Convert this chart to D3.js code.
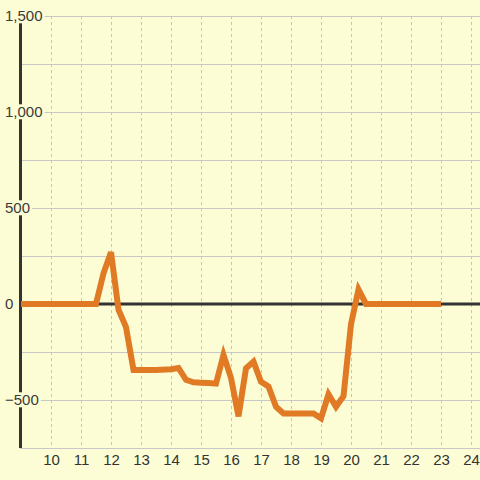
<!DOCTYPE html>
<html>
<head>
<meta charset="utf-8">
<script src="https://cdn.jsdelivr.net/npm/d3@7"></script>
<style>
  body { margin: 0; background: #fdfdd5; }
  svg { display: block; font-family: "Liberation Sans", Arial, sans-serif; }
</style>
</head>
<body>
<div id="wrap"></div>
<script>
//  values
const xValues = [9, 9.5, 10, 10.5, 11, 11.5, 11.75, 12, 12.25, 12.5, 12.75, 13, 13.5, 14,
  14.25, 14.5, 14.75, 15, 15.25, 15.5, 15.75, 16, 16.25, 16.5, 16.75, 17, 17.25,
  17.5, 17.75, 18, 18.5, 18.75, 19, 19.25, 19.5, 19.75, 20, 20.25, 20.5, 21, 22, 23];
const yValues = [0, 0, 0, 0, 0, 0, 160, 270, -30, -120, -344, -344, -344, -340,
  -333, -395, -408, -410, -412, -415, -265, -385, -585, -335, -300, -405, -430,
  -535, -570, -570, -570, -570, -595, -470, -535, -480, -105, 75, 0, 0, 0, 0];
const xTicks = [10, 11, 12, 13, 14, 15, 16, 17, 18, 19, 20, 21, 22, 23, 24];
const yTicks = [-500, 0, 500, 1000, 1500];
const yGridLines = [-750, -500, -250, 0, 250, 500, 750, 1000, 1250, 1500];

const W = 480, H = 480;
const bg = "#fdfdd5";

const x = d3.scaleLinear().domain([9, 24.3]).range([21, 480]);
const y = d3.scaleLinear().domain([-750, 1500]).range([448, 16]);

const svg = d3.select("#wrap").append("svg").attr("width", W).attr("height", H);
svg.append("rect").attr("width", W).attr("height", H).attr("fill", bg);

//  vertical dotted grid
svg.append("g").selectAll("line").data(xTicks).enter().append("line")
  .attr("x1", d => x(d) + 0.5).attr("x2", d => x(d) + 0.5)
  .attr("y1", y(1500)).attr("y2", y(-750))
  .attr("stroke", "#c4c4c4").attr("stroke-dasharray", "3,3");

//  horizontal grid
svg.append("g").selectAll("line").data(yGridLines).enter().append("line")
  .attr("x1", 20).attr("x2", W)
  .attr("y1", d => Math.round(y(d)) + 0.5).attr("y2", d => Math.round(y(d)) + 0.5)
  .attr("stroke", "#c8c8c8");

//  zero line
svg.append("line").attr("x1", 20).attr("x2", W)
  .attr("y1", y(0)).attr("y2", y(0))
  .attr("stroke", "#333").attr("stroke-width", 3);

//  y axis line
svg.append("line").attr("x1", 20.5).attr("x2", 20.5)
  .attr("y1", y(1500)).attr("y2", y(-750))
  .attr("stroke", "#333").attr("stroke-width", 3);

//  data line
const line = d3.line().x((d, i) => x(xValues[i])).y(d => y(d));
svg.append("path").datum(yValues)
  .attr("d", line)
  .attr("fill", "none")
  .attr("stroke", "#e07a24")
  .attr("stroke-width", 6);

//  x axis labels
const xAxis = svg.append("g").attr("transform", "translate(0," + 448 + ")")
  .call(d3.axisBottom(x).tickValues(xTicks).tickSize(0).tickPadding(6));
xAxis.select(".domain").remove();
xAxis.selectAll("text").attr("font-size", 15).attr("fill", "#333")
  .style("font-family", "'Liberation Sans', Arial, sans-serif");

//  y axis labels with a background box over the axis
const yAxis = svg.append("g").attr("transform", "translate(5,0)")
  .call(d3.axisRight(y).tickValues(yTicks).tickSize(0).tickPadding(0)
    .tickFormat(d3.format(",")));
yAxis.select(".domain").remove();
yAxis.selectAll("text").attr("font-size", 15).attr("fill", "#3a3a3a")
  .style("font-family", "'Liberation Sans', Arial, sans-serif")
  .attr("text-anchor", "start");
yAxis.selectAll(".tick").each(function () {
  const t = d3.select(this).select("text");
  const b = t.node().getBBox();
  d3.select(this).insert("rect", "text")
    .attr("x", b.x - 2).attr("y", b.y + 1)
    .attr("width", b.width + 4).attr("height", b.height - 2)
    .attr("fill", bg);
});
</script>
</body>
</html>
